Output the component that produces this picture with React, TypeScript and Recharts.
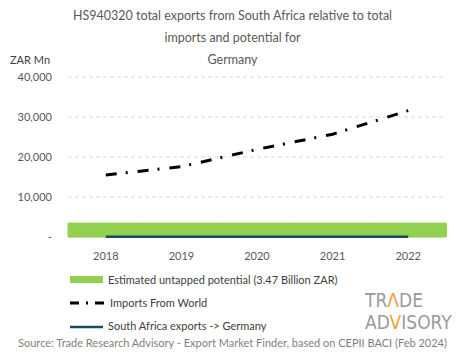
import { Bar, CartesianGrid, ComposedChart, Line, XAxis, YAxis } from "recharts";

const years = ["2018", "2019", "2020", "2021", "2022"];
const importsFromWorld = [15500, 17600, 21900, 25700, 31600];
const saExportsToGermany = [60, 80, 70, 90, 75];
const untappedPotential = [3470, 3470, 3470, 3470, 3470];
const yTicks = [0, 10000, 20000, 30000, 40000];

const data = years.map((year, i) => ({
  year,
  potential: untappedPotential[i],
  imports: importsFromWorld[i],
  exports: saExportsToGermany[i],
}));

const font = "Lato, 'Open Sans', sans-serif";
const green = "#92d050";
const teal = "#1b4a5c";
const logoFont = "'Liberation Sans Narrow', 'DejaVu Sans Condensed', sans-serif";
const logoGrey = "#9a9a9a";
const logoOrange = "#f0a030";

function LegendBox() {
  const row = { display: "flex", alignItems: "center", height: 23 } as const;
  const text = { fontSize: 11, color: "#404040", marginLeft: 4 } as const;
  return (
    <div style={{ fontFamily: font }}>
      <div style={row}>
        <svg width={36} height={10}><rect x={2} y={1} width={33} height={7} fill={green} /></svg>
        <span style={text}>Estimated untapped potential (3.47 Billion ZAR)</span>
      </div>
      <div style={row}>
        <svg width={38} height={10}>
          <line x1={2} y1={5} x2={37} y2={5} stroke="#000" strokeWidth={3} strokeDasharray="9 7 2 7" />
        </svg>
        <span style={text}>Imports From World</span>
      </div>
      <div style={row}>
        <svg width={36} height={10}><line x1={2} y1={6} x2={35} y2={6} stroke={teal} strokeWidth={2.5} /></svg>
        <span style={text}>South Africa exports -&gt; Germany</span>
      </div>
    </div>
  );
}

function Logo() {
  return (
    <svg style={{ position: "absolute", left: 360, top: 284 }} width={105} height={50}>
      <text x={5} y={23} fontSize={19} fontFamily={logoFont} fill={logoGrey}>
        TR<tspan fill={logoOrange}>Λ</tspan>DE
      </text>
      <text x={5} y={45} fontSize={19} fontFamily={logoFont} fill={logoGrey}>
        AD<tspan fill={logoOrange}>V</tspan>ISORY
      </text>
    </svg>
  );
}

export default function App() {
  return (
    <div style={{ position: "absolute", left: 0, top: 0, width: 465, height: 359, background: "#fff", fontFamily: font }}>
      <div style={{ position: "absolute", left: 0, width: 465, top: 5, textAlign: "center", fontSize: 12.5, color: "#595959", lineHeight: "22px" }}>
        <div>HS940320 total exports from South Africa relative to total</div>
        <div>imports and potential for</div>
        <div>Germany</div>
      </div>
      <div style={{ position: "absolute", left: 10, top: 53, fontSize: 11, color: "#404040" }}>ZAR Mn</div>
      <ComposedChart
        width={465}
        height={359}
        data={data}
        margin={{ top: 77, right: 19, bottom: 92, left: 0 }}
        barCategoryGap={0}
        barGap={0}
      >
        <CartesianGrid vertical={false} stroke="#d9d9d9" strokeDasharray="4 3" />
        <XAxis
          dataKey="year"
          axisLine={false}
          tickLine={false}
          tickSize={6}
          tickMargin={9}
          height={30}
          tick={{ fontSize: 11, fill: "#595959", fontFamily: font }}
        />
        <YAxis
          width={68}
          domain={[0, 40000]}
          ticks={yTicks}
          axisLine={false}
          tickLine={false}
          tickSize={8}
          tickMargin={8}
          tickFormatter={(v: number) => (v === 0 ? "-" : v.toLocaleString("en-US"))}
          tick={{ fontSize: 11, fill: "#595959", fontFamily: font }}
        />
        <Bar dataKey="potential" fill={green} stroke={green} strokeWidth={1} isAnimationActive={false} />
        <Line
          dataKey="imports"
          stroke="#000"
          strokeWidth={3}
          strokeDasharray="11 9 2 10"
          dot={false}
          type="linear"
          isAnimationActive={false}
        />
        <Line dataKey="exports" stroke={teal} strokeWidth={2.5} dot={false} type="linear" isAnimationActive={false} />
      </ComposedChart>
      <div style={{ position: "absolute", left: 68, top: 268 }}>
        <LegendBox />
      </div>
      <Logo />
      <div style={{ position: "absolute", left: 0, width: 465, top: 336, textAlign: "center", fontSize: 11, color: "#7f7f7f", whiteSpace: "nowrap" }}>
        Source: Trade Research Advisory - Export Market Finder, based on CEPII BACI (Feb 2024)
      </div>
    </div>
  );
}
